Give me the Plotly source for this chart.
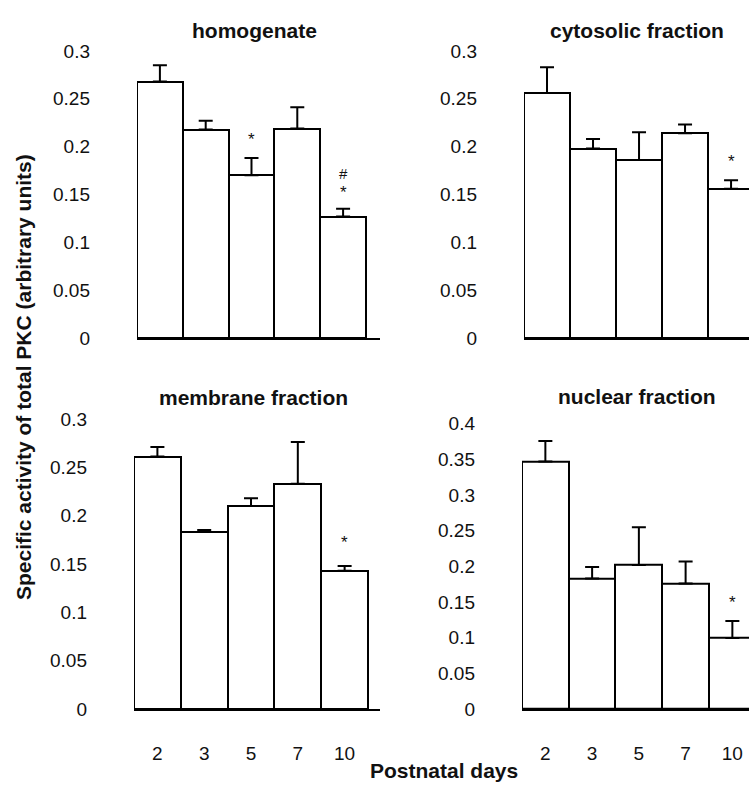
import plotly.graph_objects as go

days = ["2", "3", "5", "7", "10"]

homogenate = [0.268, 0.218, 0.170, 0.219, 0.127]
homogenate_err = [0.017, 0.009, 0.018, 0.022, 0.008]

cytosolic = [0.256, 0.198, 0.186, 0.214, 0.156]
cytosolic_err = [0.027, 0.010, 0.029, 0.009, 0.009]

membrane = [0.261, 0.183, 0.210, 0.233, 0.143]
membrane_err = [0.010, 0.002, 0.008, 0.043, 0.005]

nuclear = [0.347, 0.183, 0.202, 0.176, 0.0995]
nuclear_err = [0.029, 0.016, 0.053, 0.031, 0.024]

titles = ["homogenate", "cytosolic fraction", "membrane fraction", "nuclear fraction"]
y_title = "Specific activity of total PKC (arbitrary units)"
x_title = "Postnatal days"

# significance marks: (panel index, bar index, y value, text)
marks = [
    (0, 2, 0.213, "*"),
    (0, 4, 0.172, "#"),
    (0, 4, 0.157, "*"),
    (1, 4, 0.190, "*"),
    (2, 4, 0.177, "*"),
    (3, 4, 0.157, "*"),
]

W, H = 749, 794
FONT = "Liberation Sans, Arial, sans-serif"

panels = [
    dict(vals=homogenate, err=homogenate_err, x=(137, 380), y=(337, 42), yr=[0, 0.3], dt=0.05, xr=[-0.5, 4.806], labels=False),
    dict(vals=cytosolic, err=cytosolic_err, x=(524, 749), y=(337, 42), yr=[0, 0.3], dt=0.05, xr=[-0.5, 4.39], labels=False),
    dict(vals=membrane, err=membrane_err, x=(134, 380), y=(718, 420), yr=[0, 0.3], dt=0.05, xr=[-0.5, 4.756], labels=True),
    dict(vals=nuclear, err=nuclear_err, x=(522, 749), y=(718, 425), yr=[0, 0.4], dt=0.05, xr=[-0.5, 4.356], labels=True),
]

fig = go.Figure()
layout = {}
for i, p in enumerate(panels):
    n = "" if i == 0 else str(i + 1)
    fig.add_trace(go.Bar(
        x=list(range(len(days))), y=p["vals"],
        marker=dict(color="white", line=dict(color="black", width=2)),
        error_y=dict(type="data", symmetric=False, array=p["err"],
                     arrayminus=[0] * len(days), color="black", thickness=2, width=7),
        width=1.0,
        xaxis="x" + n, yaxis="y" + n, showlegend=False,
    ))
    layout["xaxis" + n] = dict(
        domain=[p["x"][0] / W, p["x"][1] / W], range=p["xr"], anchor="y" + n,
        showline=True, linecolor="black", linewidth=2, showgrid=False, zeroline=False,
        tickmode="array", tickvals=list(range(len(days))), ticktext=days,
        showticklabels=p["labels"], ticks="", ticklabelstandoff=26,
        tickfont=dict(family=FONT, size=19, color="#111"),
    )
    nt = int(round(p["yr"][1] / p["dt"]))
    tv = [round(k * p["dt"], 2) for k in range(nt + 1)]
    layout["yaxis" + n] = dict(
        domain=[1 - p["y"][0] / H, 1 - p["y"][1] / H], range=p["yr"], anchor="x" + n,
        showline=False, showgrid=False, zeroline=False,
        tickmode="array", tickvals=tv, ticktext=[("%g" % v) for v in tv],
        ticks="", ticklabelstandoff=46,
        tickfont=dict(family=FONT, size=19, color="#111"),
    )

annotations = []
title_pos = [(255, 21), (637, 21), (253, 398), (637, 397)]
for t, (tx, ty) in zip(titles, title_pos):
    annotations.append(dict(text="<b>%s</b>" % t, x=tx / W, y=1 - ty / H, xref="paper", yref="paper",
                            xanchor="center", yanchor="middle", showarrow=False,
                            font=dict(family=FONT, size=21, color="#111")))

for (pi, bi, yv, txt) in marks:
    n = "" if pi == 0 else str(pi + 1)
    annotations.append(dict(text=txt, x=bi, y=yv, xref="x" + n, yref="y" + n,
                            xanchor="center", yanchor="middle", showarrow=False,
                            yshift=-5 if txt == "*" else 0,
                            font=dict(family=FONT, size=17 if txt == "*" else 15, color="#111")))

annotations.append(dict(text="<b>%s</b>" % y_title, x=23 / W, y=1 - 377 / H, xref="paper", yref="paper",
                        xanchor="center", yanchor="middle", textangle=-90, showarrow=False,
                        font=dict(family=FONT, size=21, color="#111")))
annotations.append(dict(text="<b>%s</b>" % x_title, x=444 / W, y=1 - 781 / H, xref="paper", yref="paper",
                        xanchor="center", yanchor="middle", showarrow=False,
                        font=dict(family=FONT, size=21, color="#111")))

fig.update_layout(
    width=W, height=H, margin=dict(l=0, r=0, t=0, b=0),
    paper_bgcolor="white", plot_bgcolor="white",
    bargap=0, annotations=annotations, **layout,
)

fig.write_html("out.html")
